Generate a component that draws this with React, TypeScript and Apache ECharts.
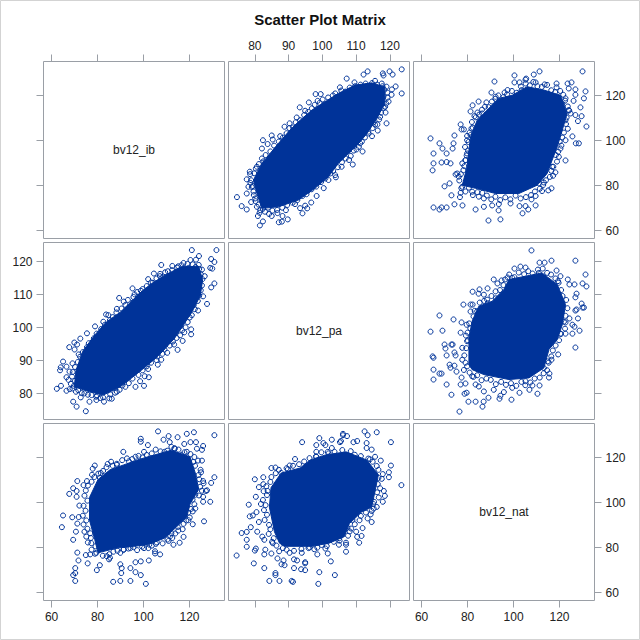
import React, { useEffect, useRef } from "react";
import * as echarts from "echarts";

type Pair = [number, number];

const variableNames = ["bv12_ib", "bv12_pa", "bv12_nat"];
const wideTicks = [60, 80, 100, 120];
const paTicks = [80, 90, 100, 110, 120];
const ibRange: Pair = [56.5, 135.2];
const paRange: Pair = [72.2, 125.8];
const natRange: Pair = [56.5, 135.2];

// pa (x), ib (y): individually readable points
const paIbPoints: Pair[] = [
  [123.5,131.7],[119.9,130.8],[120.8,129.4],[117.9,129.9],[118.1,129.0],[113.4,130.8],[112.2,129.4],[107.2,127.6],
  [123.5,121.0],[121.7,124.1],[120.6,122.8],[120.5,120.4],[119.0,107.7],[116.4,104.5],[114.7,102.0],[111.9,95.2],
  [109.0,89.4],[119.3,119.1],[118.9,116.5],[118.7,112.5],[116.3,107.2],[115.2,108.2],[110.1,96.1],[107.7,95.5],
  [105.7,88.4],[104.0,83.7],[100.4,78.9],[98.3,75.4],[96.7,72.5],[95.5,69.9],[94.1,67.7],[89.75,65.0],
  [88.2,66.5],[88.0,64.0],[87.1,63.7],[82.4,64.1],[81.5,62.3],[80.9,66.5],[77.6,69.4],[76.1,70.9],
  [74.7,74.9],[77.6,76.5],[79.7,75.8],[78.9,72.7],[77.6,82.8],[78.6,85.1],[78.5,86.2],[78.1,79.5],
  [79.4,79.8],[80.6,88.4],[82.1,92.1],[82.4,100.2],[82.1,96.5],[83.8,98.5],[85.0,102.3],[85.3,100.5],
  [87.5,102.0],[88.8,106.2],[90.3,107.7],[92.4,110.3],[93.3,114.8],[94.9,113.3],[96.0,117.0],[98.0,120.7],
  [99.5,120.7],[98.6,117.7],[100.1,118.3],[103.8,121.0],[105.2,123.7],[109.5,125.9],[112.8,125.4],[115.6,126.6],
  [117.6,125.4],[119.0,124.0],[85.0,66.5],[89.2,69.1],[91.9,71.8],[93.4,70.0],[94.9,71.1],[92.4,75.0],
  [95.9,78.0],[101.8,82.5],[103.8,84.7],[107.9,91.4],[111.2,98.8],[113.6,104.0],[117.1,110.6],[118.6,115.1],
  [83.0,68.4],[81.6,69.1],[80.6,70.6],[80.1,74.3],
  [78.9,82.4],[79.8,85.5],[80.3,87.6],[81.2,89.6],[82.5,90.8],[83.2,93.6],[84.6,95.2],[85.7,97.8],
  [86.4,95.9],[87.1,99.6],[88.3,101.4],[89.4,103.3],[90.2,105.6],[91.3,105.9],[92.1,108.2],[93.4,109.1],
  [94.6,111.4],[95.8,112.8],[96.9,114.4],[97.7,115.9],[99.2,116.8],[100.6,116.1],[101.7,119.2],[103.1,120.1],
  [104.2,119.4],[105.6,122.3],[106.8,121.8],[108.1,123.6],[109.7,124.2],[111.3,124.9],[113.1,124.1],[114.7,125.6],
  [116.2,124.9],[117.8,124.2],[118.4,122.6],[119.2,121.4],[118.1,119.6],[119.6,117.4],[118.2,114.6],[117.4,112.4],
  [116.8,109.4],[115.6,107.1],[114.9,105.6],[113.7,103.2],[112.6,101.4],[111.7,99.6],[110.8,97.2],[109.3,95.6],
  [108.4,93.2],[106.9,92.1],[105.8,90.4],[104.6,88.2],[103.2,86.6],[102.3,85.4],[100.9,83.2],[99.6,81.6],
  [98.2,79.6],[96.8,78.4],[95.3,76.2],[94.1,75.4],[92.6,73.6],[91.2,72.4],[89.6,71.4],[88.1,70.2],
  [86.6,69.2],[85.2,68.9],[83.9,70.2],[82.4,69.7],[81.1,71.6],[80.2,73.1],[79.6,77.4],[79.1,79.4],
  [78.7,81.2],[81.4,67.9],[84.2,67.4],[86.7,67.8],
];
// nat (x), ib (y)
const natIbPoints: Pair[] = [
  [130.0,130.8],[111.3,130.8],[108.8,129.4],[105.5,127.6],[105.2,127.1],[100.4,129.0],[100.4,125.9],[102.6,125.9],
  [91.7,126.3],[131.3,121.9],[126.9,122.8],[126.9,120.4],[130.6,118.8],[126.1,117.7],[129.1,114.8],[129.6,110.9],
  [126.9,111.4],[128.0,108.7],[131.7,106.3],[125.6,101.9],[127.1,98.8],[128.4,98.8],[122.6,100.2],[122.6,91.2],
  [120.4,96.5],[118.2,85.9],[117.2,84.4],[116.5,78.8],[113.2,81.4],[112.4,77.6],[115.1,77.9],[109.6,71.2],
  [106.4,69.4],[105.2,70.9],[103.9,67.7],[94.3,65.0],[89.1,64.5],[93.5,69.0],[83.5,69.4],[77.8,71.2],
  [74.3,71.7],[70.9,70.3],[68.7,70.3],[67.8,69.4],[65.2,70.3],[73.0,75.7],[76.7,74.9],[77.0,76.8],
  [70.0,79.7],[72.2,81.0],[64.8,86.8],[65.2,89.9],[68.7,90.3],[70.9,90.5],[72.6,89.9],[65.2,94.3],
  [70.9,94.3],[69.1,96.5],[67.8,98.8],[73.5,96.5],[73.9,98.8],[74.3,102.3],[63.9,101.0],[77.0,107.2],
  [77.4,105.0],[78.4,105.0],[81.7,105.4],[81.3,113.0],[82.2,115.7],[84.8,117.4],[88.2,117.0],[83.0,110.9],
  [84.3,112.5],[90.4,121.4],[96.1,121.4],[97.4,122.5],[103.5,122.5],[109.6,125.9],[113.5,125.0],[118.7,125.4],
  [118.7,123.7],[123.5,125.4],[125.2,125.9],[124.0,123.2],[122.6,118.8],[124.8,112.1],[76.2,84.0],[74.8,85.0],
  [77.7,89.9],[79.8,94.3],[79.8,100.2],[81.3,102.5],[84.9,75.1],[87.1,70.6],[90.7,71.2],[93.6,71.8],
  [98.7,72.1],[102.6,70.9],[107.8,73.9],[109.6,75.4],[111.0,81.0],[116.8,88.4],[119.7,92.8],[122.6,109.1],
  [124.0,113.6],[86.4,112.1],[92.2,119.5],[87.1,74.3],[82.0,77.3],[77.7,79.5],[75.5,85.4],[79.1,91.4],[121.2,116.5],
  [76.4,82.3],[77.1,85.1],[78.2,86.9],[78.6,88.7],[79.1,91.3],[79.6,93.4],[80.2,95.6],[78.9,97.2],
  [80.4,99.4],[79.8,102.1],[80.9,103.6],[82.3,105.8],[81.9,108.3],[83.6,110.4],[85.1,111.6],[86.3,113.8],
  [87.6,115.1],[89.2,114.9],[90.6,117.4],[92.1,118.6],[93.4,120.1],[95.6,119.4],[97.2,120.6],[99.3,122.1],
  [101.4,121.3],[103.2,124.1],[105.3,125.4],[107.1,124.6],[108.6,126.1],[110.4,124.2],[112.3,123.9],[114.6,124.8],
  [116.4,122.4],[118.1,121.6],[120.3,122.1],[121.6,120.4],[122.4,117.8],[123.6,115.2],[124.2,113.4],[123.1,110.3],
  [122.8,107.4],[123.6,105.3],[121.9,103.6],[121.2,101.4],[120.1,99.6],[120.8,97.8],[119.4,95.1],[118.4,93.6],
  [118.9,90.7],[117.3,88.4],[116.4,86.6],[115.8,83.9],[114.1,82.4],[112.9,80.3],[111.4,78.6],[109.3,77.4],
  [107.6,75.8],[105.4,74.9],[103.1,74.3],[100.9,75.6],[98.6,73.9],[96.4,74.8],[94.2,73.6],[92.1,75.1],
  [90.3,73.9],[88.4,75.6],[86.4,76.8],[84.3,77.1],[82.3,75.8],[80.6,79.1],[79.1,77.4],[77.3,78.9],
];
// nat (x), pa (y)
const natPaPoints: Pair[] = [
  [107.8,123.4],[126.9,120.3],[116.5,120.3],[113.5,119.7],[111.3,119.7],[103.0,118.5],[105.2,118.2],[100.4,117.9],
  [118.7,117.3],[120.4,115.6],[131.3,116.1],[123.6,114.6],[126.5,113.1],[130.0,113.4],[131.7,112.5],[127.4,110.3],
  [124.3,113.1],[97.4,115.2],[94.8,114.3],[91.4,114.6],[93.0,113.4],[88.7,111.9],[85.2,111.6],[82.2,110.9],
  [84.8,110.3],[87.1,110.0],[78.2,107.0],[81.3,107.0],[82.2,107.0],[81.3,104.9],[67.8,103.7],[73.9,102.5],
  [77.4,101.6],[79.6,100.9],[63.9,98.8],[69.1,99.1],[77.0,98.5],[80.0,98.5],[70.0,94.9],[73.0,94.9],
  [73.5,94.9],[70.4,93.7],[70.9,91.6],[64.8,91.3],[65.2,90.9],[74.3,92.5],[74.8,91.6],[72.2,88.8],
  [74.3,88.5],[72.6,87.9],[65.2,87.3],[68.7,86.1],[67.8,86.1],[75.2,86.7],[65.2,84.3],[70.9,82.8],
  [77.4,84.9],[77.0,82.8],[79.1,83.1],[73.0,79.7],[78.7,80.0],[79.6,80.3],[80.4,77.6],[83.5,77.6],
  [76.5,74.6],[86.5,76.1],[87.0,77.6],[89.1,78.8],[93.9,78.5],[94.3,79.4],[99.1,78.2],[102.6,80.3],
  [106.9,81.2],[110.4,80.0],[111.3,82.5],[108.2,82.5],[115.4,84.9],[115.6,86.1],[126.9,94.0],[128.7,99.1],
  [125.6,98.2],[122.6,98.2],[120.4,98.2],[119.4,91.9],[116.5,90.3],[114.9,89.8],[128.0,102.8],[130.0,106.1],
  [130.6,106.1],[129.6,107.3],[126.9,105.2],[127.4,105.5],[124.3,102.8],[122.6,101.6],[125.6,100.9],[126.5,100.3],
  [126.9,109.2],[119.3,114.1],[111.0,116.6],[84.9,82.2],[87.1,80.7],[91.4,81.2],[95.8,80.5],[99.4,81.8],
  [105.2,83.8],[113.2,87.8],[77.7,93.9],[77.7,90.3],[79.8,88.3],[82.0,85.3],[83.5,82.8],[79.8,95.9],
  [84.2,105.0],[88.5,108.5],[92.2,111.0],[99.4,115.1],
  [78.4,87.2],[79.1,89.4],[78.6,91.6],[79.4,93.8],[80.1,96.2],[79.3,97.6],[81.2,99.8],[80.7,101.3],
  [82.6,103.4],[83.1,105.1],[85.3,107.6],[87.2,108.1],[88.9,107.4],[90.4,109.6],[92.3,108.9],[94.1,111.4],
  [95.6,112.9],[96.3,114.6],[98.1,116.1],[100.4,115.3],[102.3,116.7],[104.6,116.2],[106.4,117.1],[108.3,116.4],
  [110.6,117.6],[112.7,117.9],[114.6,116.6],[116.3,116.1],[118.2,114.9],[119.6,113.6],[120.7,111.4],[121.3,109.6],
  [122.9,108.4],[123.4,105.9],[122.6,103.6],[121.9,101.8],[122.4,99.7],[120.6,98.1],[119.8,96.2],[118.3,94.6],
  [117.1,93.1],[116.4,91.3],[115.3,89.4],[114.6,87.1],[113.1,86.2],[111.4,84.9],[109.2,84.6],[107.3,83.4],
  [105.1,82.6],[103.4,83.6],[101.2,82.4],[98.9,83.2],[96.7,82.7],[94.6,83.6],[92.3,82.9],[90.1,84.2],
  [88.2,84.6],[86.1,84.1],[84.2,85.6],[82.6,85.1],[80.9,86.4],
];

// Outlines of the regions where the points overlap into a solid mass
const paIbDense: Pair[] = [
  [79.6,82.5],[82.1,89.9],[84.5,94.3],[87.0,98.8],[90.4,104.7],[92.9,108.4],[96.9,113.6],[100.8,117.3],
  [104.7,121.0],[109.7,124.7],[114.6,125.7],[118.5,123.9],[118.5,116.5],[116.1,109.9],[113.6,104.0],[111.2,99.5],
  [107.7,94.3],[104.7,89.9],[101.8,84.0],[97.8,78.8],[92.9,73.6],[87.0,70.6],[82.1,69.9],[80.6,76.5],
];
const natIbDense: Pair[] = [
  [77.7,80.2],[79.8,88.4],[80.6,95.8],[81.3,101.7],[84.2,109.1],[88.5,113.6],[93.6,118.8],[99.4,120.2],
  [105.9,124.0],[113.2,122.5],[120.4,120.2],[123.3,112.1],[121.2,104.7],[119.0,97.3],[116.8,91.4],[114.6,85.4],
  [110.3,80.2],[102.3,76.5],[92.2,76.5],[83.5,78.8],
];
const natPaDense: Pair[] = [
  [80.6,88.8],[80.6,96.9],[82.0,102.0],[84.9,106.5],[90.7,108.0],[95.8,111.6],[98.0,114.6],[105.2,115.6],
  [112.4,116.6],[119.0,113.1],[122.6,107.0],[121.2,100.9],[119.0,96.4],[115.4,93.4],[113.2,87.8],[106.7,84.8],
  [98.0,84.3],[87.1,85.8],[82.0,87.3],
];

const BLUE = "#003399";
const FRAME = "#9a9fa6";
const FONT = '"Liberation Sans", Arial, sans-serif';
const swap = (list: Pair[]): Pair[] => list.map(([a, b]) => [b, a]);

function buildOption() {
  const ranges = [ibRange, paRange, natRange];
  const tickSets = [wideTicks, paTicks, wideTicks];
  const lefts = [43.5, 228.5, 413.5];
  const tops = [61.5, 242.5, 423.5];
  const grid: any[] = [];
  const xAxis: any[] = [];
  const yAxis: any[] = [];
  for (let row = 0; row < 3; row++) {
    for (let col = 0; col < 3; col++) {
      grid.push({
        left: lefts[col], top: tops[row], width: 181, height: 177,
        show: true, borderColor: FRAME, borderWidth: 1, backgroundColor: "transparent",
      });
      const index = row * 3 + col;
      const xOuter = row !== 1;
      const xLabels = (row === 0 && col === 1) || (row === 2 && col !== 1);
      xAxis.push({
        type: "value", gridIndex: index, min: ranges[col][0], max: ranges[col][1],
        position: row === 0 ? "top" : "bottom",
        axisLine: { show: false }, splitLine: { show: false },
        axisTick: { show: xOuter, length: 7, customValues: tickSets[col], lineStyle: { color: FRAME, width: 1 } },
        axisLabel: {
          show: xLabels, customValues: tickSets[col], margin: 10, color: "#222",
          fontFamily: FONT, fontSize: 12, hideOverlap: false, showMinLabel: true, showMaxLabel: true,
        },
      });
      const yOuter = col !== 1;
      const yLabels = (col === 0 && row === 1) || (col === 2 && row !== 1);
      yAxis.push({
        type: "value", gridIndex: index, min: ranges[row][0], max: ranges[row][1],
        position: col === 2 ? "right" : "left",
        axisLine: { show: false }, splitLine: { show: false },
        axisTick: { show: yOuter, length: 7, customValues: tickSets[row], lineStyle: { color: FRAME, width: 1 } },
        axisLabel: {
          show: yLabels, customValues: tickSets[row], margin: 11, color: "#222",
          fontFamily: FONT, fontSize: 12,
        },
      });
    }
  }

  const panels: { index: number; points: Pair[]; dense: Pair[] }[] = [
    { index: 1, points: paIbPoints, dense: paIbDense },
    { index: 3, points: swap(paIbPoints), dense: swap(paIbDense) },
    { index: 2, points: natIbPoints, dense: natIbDense },
    { index: 6, points: swap(natIbPoints), dense: swap(natIbDense) },
    { index: 5, points: natPaPoints, dense: natPaDense },
    { index: 7, points: swap(natPaPoints), dense: swap(natPaDense) },
  ];
  const series: any[] = [];
  for (const panel of panels) {
    series.push({
      type: "custom", xAxisIndex: panel.index, yAxisIndex: panel.index, data: panel.dense,
      encode: { x: 0, y: 1 }, silent: true, z: 2,
      renderItem: (params: any, api: any) =>
        params.dataIndex === 0
          ? {
              type: "polygon",
              shape: { points: panel.dense.map((p) => api.coord(p)) },
              style: { fill: BLUE, stroke: BLUE, lineWidth: 1 },
            }
          : null,
    });
    series.push({
      type: "scatter", xAxisIndex: panel.index, yAxisIndex: panel.index, data: panel.points,
      symbol: "circle", symbolSize: 5, silent: true, z: 3,
      itemStyle: { color: "transparent", borderColor: BLUE, borderWidth: 1, opacity: 1 },
    });
  }

  const centres = [
    { name: variableNames[0], x: 134, y: 150 },
    { name: variableNames[1], x: 319, y: 331 },
    { name: variableNames[2], x: 504, y: 512 },
  ];
  return {
    animation: false,
    backgroundColor: "#fff",
    title: {
      text: "Scatter Plot Matrix", left: "center", top: 7,
      textStyle: { fontFamily: FONT, fontSize: 15, fontWeight: "bold", color: "#111" },
    },
    grid, xAxis, yAxis, series,
    graphic: [
      { type: "rect", silent: true, shape: { x: 0.5, y: 0.5, width: 639, height: 639 }, style: { fill: "none", stroke: "#d3d3d3", lineWidth: 1 } },
      ...centres.map((c) => ({
        type: "text", x: c.x, y: c.y,
        style: { text: c.name, fill: "#222", font: `12px ${FONT}`, textAlign: "center", textVerticalAlign: "middle" },
      })),
    ],
  };
}

export default function App() {
  const ref = useRef<HTMLDivElement>(null);
  useEffect(() => {
    const chart = echarts.init(ref.current!, undefined, { renderer: "svg" });
    chart.setOption(buildOption() as any);
    return () => chart.dispose();
  }, []);
  return <div ref={ref} style={{ position: "fixed", left: 0, top: 0, width: 640, height: 640 }} />;
}
